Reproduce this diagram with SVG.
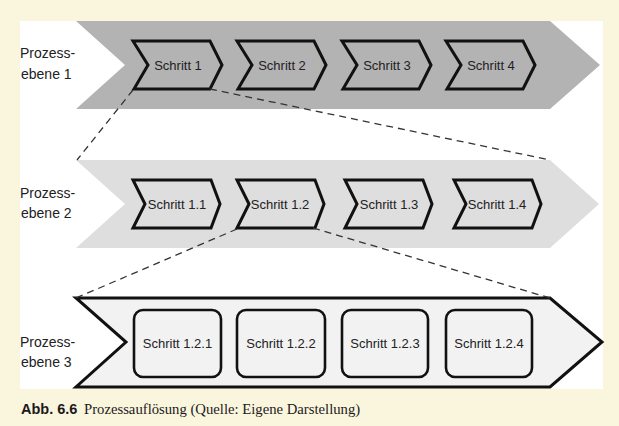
<svg xmlns="http://www.w3.org/2000/svg" width="619" height="426" viewBox="0 0 619 426">
<style>
.lbl{font-family:"Liberation Sans",Arial,sans-serif;font-size:14px;fill:#222}
.st{font-family:"Liberation Sans",Arial,sans-serif;font-size:13px;fill:#222;text-anchor:middle}
.chev{fill:none;stroke:#111;stroke-width:3;stroke-linejoin:miter}
.box{fill:#f2f2f2;stroke:#111;stroke-width:2.6}
.dash{fill:none;stroke:#333;stroke-width:1.3;stroke-dasharray:7 5}
</style>
<rect x="0" y="0" width="619" height="426" fill="#faf6de"/>
<rect x="20" y="21" width="583" height="368" fill="#ffffff"/>

<g id="level1">
<polygon points="76,21 550,21 600,65 550,109 76,109 125,65" fill="#b3b3b3"/>
<text class="lbl" x="20" y="58">Prozess-</text>
<text class="lbl" x="21" y="79">ebene 1</text>
</g>
<g id="level2">
<polygon points="76,160 550,160 599,204 550,248 76,248 125,204" fill="#dedede"/>
<text class="lbl" x="20" y="198">Prozess-</text>
<text class="lbl" x="21" y="218">ebene 2</text>
</g>
<g id="level3">
<polygon points="76,298 550,298 602,342 550,387 76,387 126,342" fill="#f2f2f2" stroke="#111" stroke-width="3"/>
<text class="lbl" x="20" y="347">Prozess-</text>
<text class="lbl" x="21" y="367">ebene 3</text>
</g>

<g id="s1"><polygon class="chev" points="133,41 210,41 222,65 210,89 134,89 148,65"/><text class="st" x="178" y="70">Schritt 1</text></g>
<g id="s2"><polygon class="chev" points="237,41 314,41 326,65 314,89 238,89 252,65"/><text class="st" x="282" y="70">Schritt 2</text></g>
<g id="s3"><polygon class="chev" points="342,41 419,41 431,65 419,89 343,89 357,65"/><text class="st" x="387" y="70">Schritt 3</text></g>
<g id="s4"><polygon class="chev" points="446,41 523,41 535,65 523,89 447,89 461,65"/><text class="st" x="491" y="70">Schritt 4</text></g>

<g id="s11"><polygon class="chev" points="133,180 211,180 220,204 211,228 133,228 145,204"/><text class="st" x="177" y="209">Schritt 1.1</text></g>
<g id="s12"><polygon class="chev" points="237,180 315,180 324,204 315,228 237,228 249,204"/><text class="st" x="280" y="209">Schritt 1.2</text></g>
<g id="s13"><polygon class="chev" points="345,180 423,180 432,204 423,228 345,228 357,204"/><text class="st" x="389" y="209">Schritt 1.3</text></g>
<g id="s14"><polygon class="chev" points="454,180 532,180 541,204 532,228 454,228 466,204"/><text class="st" x="497" y="209">Schritt 1.4</text></g>

<g id="s121"><rect class="box" x="134" y="310" width="87" height="67" rx="9"/><text class="st" x="177.5" y="348">Schritt 1.2.1</text></g>
<g id="s122"><rect class="box" x="237" y="310" width="88" height="67" rx="9"/><text class="st" x="281" y="348">Schritt 1.2.2</text></g>
<g id="s123"><rect class="box" x="342" y="310" width="86" height="67" rx="9"/><text class="st" x="385" y="348">Schritt 1.2.3</text></g>
<g id="s124"><rect class="box" x="446" y="310" width="86" height="67" rx="9"/><text class="st" x="489" y="348">Schritt 1.2.4</text></g>

<g id="connectors">
<line class="dash" x1="133" y1="90" x2="77" y2="160"/>
<line class="dash" x1="210" y1="89" x2="550" y2="160"/>
<line class="dash" x1="237" y1="229" x2="76" y2="298"/>
<line class="dash" x1="313" y1="228" x2="550" y2="298"/>
</g>

<g id="caption">
<text x="21" y="414" font-family="'Liberation Sans',Arial,sans-serif" font-size="14.5" font-weight="bold" fill="#1a1a1a">Abb. 6.6</text>
<text x="84" y="414" font-family="'Liberation Serif','Times New Roman',serif" font-size="14.7" fill="#1a1a1a">Prozessauflösung (Quelle: Eigene Darstellung)</text>
</g>
</svg>
